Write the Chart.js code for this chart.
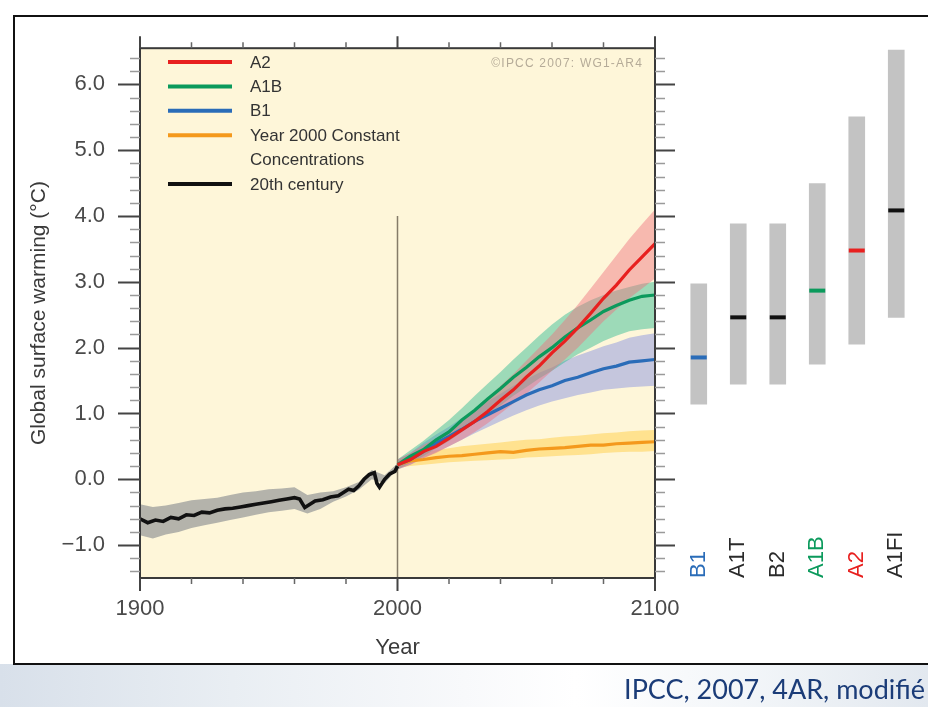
<!DOCTYPE html>
<html>
<head>
<meta charset="utf-8">
<script src="https://cdn.jsdelivr.net/npm/chart.js@4"></script>
<style>
  html, body { margin: 0; padding: 0; background: #fff; }
  #wrap { position: relative; width: 928px; height: 707px; overflow: hidden; background: #fff; }
  #swoosh { position: absolute; left: 0; top: 664px; width: 928px; height: 43px;
    background: linear-gradient(to right, #d8e0ea 0%, #e9eef3 25%, #f8f9fb 50%, #fff 62%, #f3f6f9 80%, #e2e8ef 100%); }
  #frame { position: absolute; left: 13px; top: 15px; width: 940px; height: 646px; border: 2px solid #111; background: #fff; }
  canvas { position: absolute; left: 0; top: 0; }
  #source { position: absolute; right: 3px; top: 672px; font: 27px Lato, "Open Sans", sans-serif; color: #1b3c78; line-height: 34px; }
</style>
</head>
<body>
<div id="wrap">
  <div id="swoosh"></div>
  <div id="frame"></div>
  <canvas id="main" width="928" height="707"></canvas>
  <canvas id="bars" width="928" height="707"></canvas>
  <div id="source">IPCC, 2007, 4AR, modifié</div>
</div>
<script>
// --- données du graphique ---
const histYears = [1900, 1903, 1906, 1909, 1912, 1915, 1918, 1921, 1924, 1927, 1930, 1933, 1936, 1939,
  1942, 1945, 1948, 1951, 1954, 1957, 1960, 1962, 1964, 1966, 1968, 1971, 1974, 1977, 1979, 1981,
  1983, 1985, 1987, 1989, 1991, 1992, 1993, 1995, 1997, 1999, 2000];
const histTemp = [-0.6, -0.66, -0.62, -0.64, -0.58, -0.6, -0.54, -0.55, -0.5, -0.51, -0.47, -0.45, -0.44, -0.42,
  -0.4, -0.38, -0.36, -0.34, -0.32, -0.3, -0.28, -0.3, -0.43, -0.38, -0.33, -0.31, -0.27, -0.25, -0.2, -0.15,
  -0.17, -0.1, 0.0, 0.07, 0.1, -0.06, -0.12, 0.0, 0.08, 0.12, 0.2];

const histBandYears = [1900, 1905, 1910, 1915, 1920, 1925, 1930, 1935, 1940, 1945, 1950, 1955, 1960, 1965,
  1970, 1975, 1980, 1985, 1990, 1995, 2000];
const histHigh = [-0.38, -0.42, -0.4, -0.36, -0.32, -0.3, -0.28, -0.24, -0.2, -0.18, -0.15, -0.14, -0.12, -0.24,
  -0.2, -0.18, -0.12, -0.04, 0.14, 0.06, 0.24];
const histLow = [-0.85, -0.9, -0.84, -0.8, -0.74, -0.7, -0.66, -0.62, -0.58, -0.54, -0.5, -0.48, -0.45, -0.52,
  -0.45, -0.34, -0.26, -0.16, 0.0, -0.06, 0.16];

const projYears = [2000, 2005, 2010, 2015, 2020, 2025, 2030, 2035, 2040, 2045, 2050, 2055, 2060, 2065,
  2070, 2075, 2080, 2085, 2090, 2095, 2100];
const a2 = [0.22, 0.3, 0.42, 0.5, 0.62, 0.75, 0.88, 1.03, 1.2, 1.36, 1.55, 1.72, 1.92, 2.1, 2.3, 2.52, 2.75, 2.95, 3.18, 3.38, 3.58];
const a2High = [0.3, 0.4, 0.52, 0.62, 0.75, 0.9, 1.05, 1.23, 1.42, 1.6, 1.8, 2.0, 2.2, 2.42, 2.65, 2.9, 3.15, 3.4, 3.65, 3.88, 4.1];
const a2Low = [0.15, 0.22, 0.32, 0.4, 0.5, 0.6, 0.72, 0.85, 1.0, 1.15, 1.3, 1.47, 1.65, 1.82, 2.0, 2.2, 2.4, 2.58, 2.75, 2.9, 3.05];
const a1b = [0.22, 0.35, 0.45, 0.6, 0.72, 0.9, 1.05, 1.22, 1.38, 1.55, 1.7, 1.86, 2.0, 2.16, 2.3, 2.42, 2.55, 2.64, 2.72, 2.78, 2.8];
const a1bHigh = [0.3, 0.44, 0.58, 0.74, 0.9, 1.08, 1.27, 1.45, 1.63, 1.82, 2.0, 2.18, 2.35, 2.5, 2.62, 2.72, 2.8, 2.87, 2.92, 2.97, 3.0];
const a1bLow = [0.15, 0.25, 0.35, 0.47, 0.58, 0.72, 0.85, 0.98, 1.12, 1.27, 1.4, 1.53, 1.65, 1.78, 1.9, 2.0, 2.1, 2.18, 2.25, 2.28, 2.3];
const b1 = [0.22, 0.3, 0.42, 0.55, 0.65, 0.76, 0.88, 0.98, 1.08, 1.18, 1.28, 1.36, 1.42, 1.5, 1.55, 1.62, 1.68, 1.72, 1.78, 1.8, 1.82];
const b1High = [0.3, 0.4, 0.55, 0.68, 0.8, 0.93, 1.05, 1.18, 1.3, 1.42, 1.52, 1.62, 1.7, 1.8, 1.88, 1.95, 2.02, 2.08, 2.15, 2.19, 2.22];
const b1Low = [0.15, 0.22, 0.32, 0.41, 0.5, 0.6, 0.7, 0.79, 0.88, 0.97, 1.05, 1.12, 1.18, 1.23, 1.28, 1.32, 1.36, 1.38, 1.4, 1.41, 1.42];
const constConc = [0.22, 0.28, 0.3, 0.33, 0.35, 0.36, 0.38, 0.4, 0.42, 0.41, 0.44, 0.46, 0.47, 0.48, 0.5, 0.52, 0.52, 0.54, 0.55, 0.56, 0.57];
const constHigh = [0.28, 0.36, 0.4, 0.44, 0.47, 0.5, 0.52, 0.54, 0.56, 0.58, 0.6, 0.61, 0.63, 0.65, 0.66, 0.68, 0.7, 0.71, 0.73, 0.74, 0.75];
const constLow = [0.17, 0.2, 0.22, 0.24, 0.26, 0.27, 0.28, 0.29, 0.3, 0.31, 0.33, 0.34, 0.35, 0.36, 0.37, 0.38, 0.4, 0.41, 0.42, 0.42, 0.43];

// barres à droite (meilleure estimation + fourchette probable en 2090-2099)
const scenarios = ['B1', 'A1T', 'B2', 'A1B', 'A2', 'A1FI'];
const scenarioBest = [1.8, 2.4, 2.4, 2.8, 3.4, 4.0];
const scenarioLow = [1.1, 1.4, 1.4, 1.7, 2.0, 2.4];
const scenarioHigh = [2.9, 3.8, 3.8, 4.4, 5.4, 6.4];

// axes
const xLabelYears = [1900, 2000, 2100];
const xMinorYears = [1920, 1940, 1960, 1980, 2020, 2040, 2060, 2080];
const yTickValues = [-1, 0, 1, 2, 3, 4, 5, 6];
const yTickLabels = ['\u22121.0', '0.0', '1.0', '2.0', '3.0', '4.0', '5.0', '6.0'];
const yMin = -1.5, yMax = 6.55;
const divideYear = 2000, divideTop = 4.0;

const FONT = "'Liberation Sans', Arial, sans-serif";
const RED = '#e8201f', GREEN = '#0b9a5c', BLUE = '#2a6cb8', ORANGE = '#f4991c', BLACK = '#111';
const scenarioColors = [BLUE, '#2a2a2a', '#2a2a2a', GREEN, RED, '#2a2a2a'];
const scenarioMarkColors = [BLUE, BLACK, BLACK, GREEN, RED, BLACK];

function pts(xs, ys) {
    return xs.map((x, i) => ({ x: x, y: ys[i] }));
}

function lineSet(label, xs, ys, color, width) {
    return { label: label, data: pts(xs, ys), borderColor: color, borderWidth: width,
             pointRadius: 0, tension: 0, fill: false };
}

function bandSet(xs, ys, color, fill) {
    return { data: pts(xs, ys), borderWidth: 0, borderColor: 'transparent', backgroundColor: color,
             pointRadius: 0, tension: 0, fill: fill };
}

// fond crème, cadre, graduations, légende
const framePlugin = {
    id: 'frame',
    beforeDatasetsDraw(chart) {
        const a = chart.chartArea, ctx = chart.ctx;
        ctx.save();
        ctx.fillStyle = '#fef6d9';
        ctx.fillRect(a.left, a.top, a.right - a.left, a.bottom - a.top);
        ctx.restore();
    },
    afterDatasetsDraw(chart) {
        const a = chart.chartArea, ctx = chart.ctx;
        const xs = chart.scales.x, ys = chart.scales.y;
        ctx.save();
        // copyright
        ctx.fillStyle = '#b5ab98';
        ctx.font = '12px ' + FONT;
        ctx.textAlign = 'right';
        ctx.textBaseline = 'middle';
        if ('letterSpacing' in ctx) ctx.letterSpacing = '1.2px';
        ctx.fillText('\u00A9IPCC 2007: WG1-AR4', a.right - 12, a.top + 15);
        if ('letterSpacing' in ctx) ctx.letterSpacing = '0px';

        // légende
        let ly = 62;
        ctx.textAlign = 'left';
        ctx.font = '17px ' + FONT;
        chart.data.datasets.forEach(ds => {
            if (!ds.inLegend) return;
            ctx.strokeStyle = ds.borderColor;
            ctx.lineWidth = 4;
            ctx.beginPath();
            ctx.moveTo(168, ly);
            ctx.lineTo(232, ly);
            ctx.stroke();
            ctx.fillStyle = '#333';
            const lines = Array.isArray(ds.label) ? ds.label : [ds.label];
            lines.forEach(t => {
                ctx.fillText(t, 250, ly + 1);
                ly += 24.4;
            });
        });

        // cadre
        ctx.strokeStyle = '#3a3a3a';
        ctx.lineWidth = 2;
        ctx.strokeRect(a.left, a.top, a.right - a.left, a.bottom - a.top);

        // graduations y (gauche et droite)
        for (let v = -1.4; v < 6.5; v += 0.2) {
            const y = Math.round(ys.getPixelForValue(v)) + 0.5;
            const major = Math.abs(v - Math.round(v)) < 0.01;
            ctx.strokeStyle = major ? '#444' : '#9a9a9a';
            ctx.lineWidth = major ? 2 : 1.5;
            const len = major ? 22 : 10;
            ctx.beginPath();
            ctx.moveTo(a.left - len, y); ctx.lineTo(a.left, y);
            ctx.moveTo(a.right, y); ctx.lineTo(a.right + (major ? 20 : 10), y);
            ctx.stroke();
        }
        // graduations x (haut et bas)
        ctx.strokeStyle = '#444';
        ctx.lineWidth = 2;
        xLabelYears.forEach(yr => {
            const x = xs.getPixelForValue(yr);
            ctx.beginPath();
            ctx.moveTo(x, a.top - 12); ctx.lineTo(x, a.top);
            ctx.moveTo(x, a.bottom); ctx.lineTo(x, a.bottom + 13);
            ctx.stroke();
        });
        ctx.lineWidth = 1.5;
        ctx.strokeStyle = '#666';
        xMinorYears.forEach(yr => {
            const x = xs.getPixelForValue(yr);
            ctx.beginPath();
            ctx.moveTo(x, a.top - 6); ctx.lineTo(x, a.top);
            ctx.moveTo(x, a.bottom); ctx.lineTo(x, a.bottom + 6);
            ctx.stroke();
        });
        ctx.restore();
    }
};

const datasets = [
    Object.assign(lineSet('A2', projYears, a2, RED, 3.2), { inLegend: true }),
    Object.assign(lineSet('A1B', projYears, a1b, GREEN, 3.2), { inLegend: true }),
    Object.assign(lineSet('B1', projYears, b1, BLUE, 3.2), { inLegend: true }),
    Object.assign(lineSet(['Year 2000 Constant', 'Concentrations'], projYears, constConc, ORANGE, 3.2), { inLegend: true }),
    Object.assign(lineSet('20th century', histYears, histTemp, BLACK, 3.6), { inLegend: true }),
    { data: [{ x: divideYear, y: yMin }, { x: divideYear, y: divideTop }], borderColor: '#857b68',
      borderWidth: 1.5, pointRadius: 0, fill: false },
    bandSet(projYears, a2High, 'rgba(240, 110, 125, 0.45)', '+1'),
    bandSet(projYears, a2Low, 'transparent', false),
    bandSet(projYears, a1bHigh, 'rgba(40, 185, 145, 0.45)', '+1'),
    bandSet(projYears, a1bLow, 'transparent', false),
    bandSet(projYears, b1High, 'rgba(140, 150, 225, 0.5)', '+1'),
    bandSet(projYears, b1Low, 'transparent', false),
    bandSet(projYears, constHigh, 'rgba(255, 205, 70, 0.5)', '+1'),
    bandSet(projYears, constLow, 'transparent', false),
    bandSet(histBandYears, histHigh, 'rgba(130, 135, 140, 0.6)', '+1'),
    bandSet(histBandYears, histLow, 'transparent', false)
];

new Chart(document.getElementById('main'), {
    type: 'line',
    data: { datasets: datasets },
    options: {
        responsive: false,
        animation: false,
        events: [],
        layout: { padding: { top: 40, right: 273, bottom: 44, left: 0 } },
        plugins: { legend: { display: false }, tooltip: { enabled: false } },
        scales: {
            x: {
                type: 'linear', min: 1900, max: 2100,
                grid: { display: false, drawTicks: false },
                border: { display: false },
                afterBuildTicks: s => { s.ticks = xLabelYears.map(v => ({ value: v })); },
                afterFit: s => { s.height = 85; },
                ticks: { padding: 18, color: '#4a4a4a', font: { family: FONT, size: 22 }, maxRotation: 0,
                         callback: v => String(v) },
                title: { display: true, text: 'Year', color: '#3a3a3a', font: { family: FONT, size: 22 },
                         padding: { top: 0, bottom: 2 } }
            },
            y: {
                min: yMin, max: yMax,
                grid: { display: false, drawTicks: false },
                border: { display: false },
                afterBuildTicks: s => { s.ticks = yTickValues.map(v => ({ value: v })); },
                afterFit: s => { s.width = 140; },
                ticks: { padding: 35, color: '#4a4a4a', font: { family: FONT, size: 22 },
                         callback: v => yTickLabels[yTickValues.indexOf(v)] },
                title: { display: true, text: 'Global surface warming (\u00B0C)', color: '#3a3a3a',
                         font: { family: FONT, size: 21 }, padding: { top: 27, bottom: 0 } }
            }
        }
    },
    plugins: [framePlugin]
});

// étiquettes verticales des scénarios
const scenarioLabelPlugin = {
    id: 'scenarioLabels',
    afterDraw(chart) {
        const ctx = chart.ctx, xs = chart.scales.x, ys = chart.scales.y;
        ctx.save();
        ctx.font = '22px ' + FONT;
        ctx.textAlign = 'left';
        ctx.textBaseline = 'middle';
        scenarios.forEach((s, i) => {
            ctx.save();
            ctx.translate(xs.getPixelForValue(i), ys.getPixelForValue(yMin));
            ctx.rotate(-Math.PI / 2);
            ctx.fillStyle = scenarioColors[i];
            ctx.fillText(s, 0, 0);
            ctx.restore();
        });
        ctx.restore();
    }
};

new Chart(document.getElementById('bars'), {
    type: 'bar',
    data: {
        labels: scenarios,
        datasets: [
            { type: 'line', data: scenarioBest, showLine: false, pointStyle: 'line', pointRadius: 8,
              pointBorderWidth: 4, pointBorderColor: scenarioMarkColors, pointBackgroundColor: scenarioMarkColors },
            { data: scenarioLow.map((lo, i) => [lo, scenarioHigh[i]]), backgroundColor: '#c3c3c3',
              barThickness: 16, borderWidth: 0 }
        ]
    },
    options: {
        responsive: false,
        animation: false,
        events: [],
        layout: { padding: { top: 40, right: 0, bottom: 129, left: 679 } },
        plugins: { legend: { display: false }, tooltip: { enabled: false } },
        scales: {
            x: { display: false, offset: true },
            y: { display: false, min: yMin, max: yMax }
        }
    },
    plugins: [scenarioLabelPlugin]
});
</script>
</body>
</html>
